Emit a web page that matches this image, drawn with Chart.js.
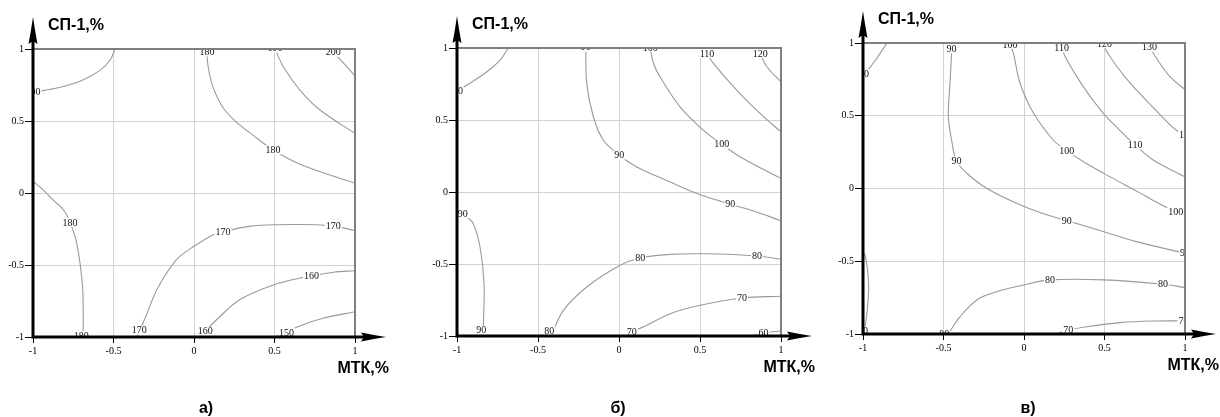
<!DOCTYPE html>
<html lang="ru">
<head>
    <meta charset="UTF-8">
    <title>Contours</title>
    <script src="https://cdn.jsdelivr.net/npm/chart.js"></script>
    <style>
        html, body { margin: 0; padding: 0; background: #fff; }
        #wrap { position: relative; width: 1220px; height: 417px; overflow: hidden; }
        #wrap canvas { position: absolute; top: 0; }
    </style>
</head>
<body>
<div id="wrap">
    <canvas id="chartA" width="395" height="417" style="left:0px"></canvas>
    <canvas id="chartB" width="397" height="417" style="left:424px"></canvas>
    <canvas id="chartC" width="395" height="417" style="left:830px"></canvas>
</div>

<script>
    // axis ticks (coded factor levels)
    const xTicks = [-1, -0.5, 0, 0.5, 1];
    const yTicks = [-1, -0.5, 0, 0.5, 1];

    // ---- panel a) : contour lines, [MTK, SP-1] pairs
    const a190tl = [[-1, 0.70], [-0.83, 0.735], [-0.69, 0.785], [-0.58, 0.855], [-0.52, 0.925], [-0.49, 1]];
    const a180top = [[0.078, 1], [0.089, 0.87], [0.12, 0.73], [0.182, 0.59], [0.265, 0.49], [0.368, 0.40], [0.49, 0.30], [0.658, 0.20], [1, 0.067]];
    const a190top = [[0.503, 1], [0.555, 0.877], [0.658, 0.715], [0.783, 0.576], [1, 0.414]];
    const a200 = [[0.85, 1], [0.897, 0.94], [0.949, 0.877], [1, 0.812]];
    const a180left = [[-1, 0.08], [-0.95, 0.035], [-0.874, -0.049], [-0.81, -0.118], [-0.77, -0.204], [-0.733, -0.326], [-0.708, -0.488], [-0.691, -0.674], [-0.688, -0.905], [-0.69, -1]];
    const a170 = [[-0.356, -1], [-0.30, -0.86], [-0.23, -0.67], [-0.11, -0.465], [0, -0.37], [0.12, -0.29], [0.18, -0.27], [0.35, -0.23], [0.51, -0.22], [0.76, -0.22], [0.865, -0.23], [1, -0.26]];
    const a160 = [[0.037, -1], [0.07, -0.96], [0.14, -0.88], [0.286, -0.74], [0.49, -0.64], [0.66, -0.59], [0.73, -0.575], [0.865, -0.55], [1, -0.54]];
    const a150 = [[0.50, -1], [0.575, -0.97], [0.64, -0.93], [0.80, -0.87], [1, -0.825]];
    const aLabels = [[190, -1.0, 0.70], [180, 0.08, 0.98], [190, 0.503, 1.006], [200, 0.865, 0.977], [180, 0.49, 0.30],
        [180, -0.77, -0.204], [180, -0.70, -0.99], [170, -0.34, -0.951], [170, 0.18, -0.27], [170, 0.865, -0.23],
        [160, 0.07, -0.96], [160, 0.73, -0.575], [150, 0.575, -0.97]];

    // ---- panel б)
    const b100tl = [[-1, 0.694], [-0.971, 0.718], [-0.817, 0.833], [-0.734, 0.915], [-0.683, 1]];
    const b90top = [[-0.205, 1], [-0.199, 0.753], [-0.158, 0.521], [-0.096, 0.359], [0.001, 0.255], [0.11, 0.174], [0.316, 0.069], [0.481, -0.011], [0.687, -0.085], [0.831, -0.132], [1, -0.2]];
    const b100 = [[0.193, 1], [0.213, 0.892], [0.254, 0.799], [0.378, 0.59], [0.522, 0.428], [0.635, 0.331], [0.749, 0.243], [1, 0.093]];
    const b110 = [[0.53, 1], [0.543, 0.96], [0.584, 0.892], [0.728, 0.706], [0.872, 0.544], [1, 0.417]];
    const b120 = [[0.86, 1], [0.872, 0.961], [0.914, 0.868], [1, 0.764]];
    const b90left = [[-1, -0.145], [-0.94, -0.174], [-0.90, -0.219], [-0.858, -0.382], [-0.833, -0.636], [-0.837, -0.914], [-0.84, -1]];
    const b80 = [[-0.42, -1], [-0.343, -0.822], [-0.199, -0.66], [0.007, -0.509], [0.131, -0.458], [0.316, -0.433], [0.522, -0.429], [0.852, -0.444], [1, -0.467]];
    const b70 = [[0.05, -1], [0.079, -0.972], [0.172, -0.926], [0.316, -0.845], [0.501, -0.787], [0.759, -0.736], [1, -0.724]];
    const b60 = [[0.82, -1], [0.892, -0.979], [1, -0.965]];
    const bLabels = [[100, -1.01, 0.70], [90, -0.205, 1.006], [100, 0.193, 1.003], [110, 0.543, 0.961], [120, 0.872, 0.961],
        [90, 0.001, 0.255], [100, 0.635, 0.331], [90, 0.687, -0.085], [90, -0.965, -0.15], [90, -0.85, -0.96],
        [80, -0.43, -0.965], [80, 0.131, -0.458], [80, 0.852, -0.444], [70, 0.079, -0.972], [70, 0.759, -0.736], [60, 0.892, -0.979]];

    // ---- panel в)
    const c100tl = [[-1, 0.77], [-0.975, 0.805], [-0.913, 0.897], [-0.851, 1]];
    const c90 = [[-0.45, 1], [-0.45, 0.93], [-0.46, 0.72], [-0.47, 0.495], [-0.45, 0.335], [-0.42, 0.19], [-0.355, 0.105], [-0.23, 0.0], [-0.025, -0.112], [0.141, -0.181], [0.265, -0.22], [0.492, -0.296], [0.699, -0.365], [1, -0.445]];
    const c100 = [[-0.09, 1], [-0.066, 0.93], [-0.025, 0.725], [0.058, 0.52], [0.18, 0.335], [0.265, 0.26], [0.39, 0.17], [0.535, 0.08], [0.72, -0.03], [0.80, -0.08], [0.943, -0.158], [1, -0.165]];
    const c110 = [[0.23, 1], [0.254, 0.91], [0.368, 0.70], [0.49, 0.52], [0.595, 0.40], [0.69, 0.30], [0.80, 0.197], [1, 0.08]];
    const c120 = [[0.49, 1], [0.52, 0.93], [0.64, 0.75], [0.80, 0.56], [0.946, 0.40], [1, 0.38]];
    const c130 = [[0.765, 1], [0.78, 0.97], [0.82, 0.90], [0.905, 0.77], [1, 0.68]];
    const c90left = [[-1, -0.44], [-0.986, -0.46], [-0.97, -0.58], [-0.965, -0.70], [-0.975, -0.85], [-0.986, -0.95], [-0.99, -1]];
    const c80 = [[-0.475, -1], [-0.469, -0.995], [-0.397, -0.881], [-0.293, -0.766], [-0.169, -0.709], [0, -0.663], [0.161, -0.628], [0.492, -0.628], [0.864, -0.658], [1, -0.681]];
    const c70 = [[0.2, -1], [0.275, -0.973], [0.389, -0.95], [0.595, -0.922], [0.80, -0.911], [1, -0.91]];
    const cLabels = [[100, -1.01, 0.789], [90, -0.45, 0.96], [100, -0.087, 0.99], [110, 0.234, 0.965], [120, 0.50, 0.995], [130, 0.78, 0.97],
        [90, -0.42, 0.19], [100, 0.265, 0.26], [110, 0.69, 0.30], [120, 1.01, 0.37], [100, 0.943, -0.158],
        [90, 0.265, -0.22], [90, 1.0, -0.44], [90, -1.0, -0.977], [80, -0.496, -1.0], [80, 0.161, -0.628], [80, 0.864, -0.658],
        [70, 0.275, -0.973], [70, 0.99, -0.91]];

    const xTitle = 'МТК,%';
    const yTitle = 'СП-1,%';

    function fmt(v) { return String(v); }

    function decorPlugin(caption, capX) {
        return {
            id: 'decor',
            afterDatasetsDraw(chart) {
                const { ctx, chartArea: ar, scales } = chart;
                const labels = chart.config.options.contourLabels;
                ctx.save();
                ctx.beginPath();
                ctx.rect(ar.left, ar.top, ar.right - ar.left, ar.bottom - ar.top);
                ctx.clip();
                ctx.font = '10px "Liberation Serif"';
                ctx.textAlign = 'center';
                ctx.textBaseline = 'middle';
                labels.forEach(l => {
                    const px = scales.x.getPixelForValue(l[1]);
                    const py = scales.y.getPixelForValue(l[2]);
                    const t = String(l[0]);
                    const w = ctx.measureText(t).width;
                    ctx.fillStyle = '#fff';
                    ctx.fillRect(px - w / 2 - 1, py - 4.5, w + 2, 9);
                    ctx.fillStyle = '#111';
                    ctx.fillText(t, px, py + 0.5);
                });
                ctx.restore();
            },
            afterDraw(chart) {
                const { ctx, chartArea: ar } = chart;
                const L = ar.left, R = ar.right, T = ar.top, B = ar.bottom;
                ctx.save();
                // frame top/right
                ctx.strokeStyle = '#7f7f7f';
                ctx.lineWidth = 2;
                ctx.beginPath();
                ctx.moveTo(L, T); ctx.lineTo(R, T); ctx.lineTo(R, B);
                ctx.stroke();
                // thick axes
                ctx.strokeStyle = '#000';
                ctx.fillStyle = '#000';
                ctx.lineWidth = 3;
                ctx.beginPath();
                ctx.moveTo(L, B + 1.5); ctx.lineTo(L, T - 10);
                ctx.moveTo(L - 1.5, B); ctx.lineTo(R + 10, B);
                ctx.stroke();
                // arrow heads
                ctx.beginPath();
                ctx.moveTo(L, T - 32);
                ctx.quadraticCurveTo(L + 2, T - 18, L + 4.5, T - 5);
                ctx.lineTo(L, T - 8);
                ctx.lineTo(L - 4.5, T - 5);
                ctx.quadraticCurveTo(L - 2, T - 18, L, T - 32);
                ctx.fill();
                ctx.beginPath();
                ctx.moveTo(R + 31, B);
                ctx.quadraticCurveTo(R + 18, B - 2, R + 6, B - 4.5);
                ctx.lineTo(R + 9, B);
                ctx.lineTo(R + 6, B + 4.5);
                ctx.quadraticCurveTo(R + 18, B + 2, R + 31, B);
                ctx.fill();
                // titles
                ctx.font = 'bold 16px "Liberation Sans"';
                ctx.textBaseline = 'middle';
                ctx.textAlign = 'left';
                ctx.fillText(yTitle, L + 15, T - 23);
                ctx.textAlign = 'right';
                ctx.fillText(xTitle, R + 34, B + 32);
                ctx.textAlign = 'center';
                ctx.textBaseline = 'alphabetic';
                ctx.fillText(caption, capX, 413);
                ctx.restore();
            }
        };
    }

    function makeChart(id, contours, labels, top, bottom, caption, capX) {
        const canvas = document.getElementById(id);
        const tickFont = { family: '"Liberation Serif"', size: 10 };
        const gridColor = ctx => {
            const v = ctx.tick ? ctx.tick.value : 0;
            if (v === 1) return '#7f7f7f';
            if (v === -1) return 'rgba(0,0,0,0)';
            return '#d2d2d2';
        };
        new Chart(canvas, {
            type: 'scatter',
            data: {
                datasets: contours.map(c => ({
                    data: c.map(p => ({ x: p[0], y: p[1] })),
                    showLine: true,
                    borderColor: '#9a9a9a',
                    borderWidth: 1.1,
                    pointRadius: 0,
                    tension: 0.35,
                    fill: false
                }))
            },
            options: {
                responsive: false,
                animation: false,
                contourLabels: labels,
                layout: { padding: { left: 0, right: 40, top: top, bottom: 417 - bottom - 20 } },
                plugins: { legend: { display: false }, tooltip: { enabled: false } },
                scales: {
                    x: {
                        type: 'linear', min: -1, max: 1,
                        afterBuildTicks: s => { s.ticks = xTicks.map(v => ({ value: v })); },
                        afterFit: s => { s.height = 20; },
                        border: { display: false },
                        grid: { color: gridColor, lineWidth: 1, tickLength: 6, tickColor: '#000', tickWidth: 1 },
                        ticks: { font: tickFont, color: '#000', padding: 2, maxRotation: 0, autoSkip: false, callback: fmt }
                    },
                    y: {
                        type: 'linear', min: -1, max: 1,
                        afterBuildTicks: s => { s.ticks = yTicks.map(v => ({ value: v })); },
                        afterFit: s => { s.width = 33; },
                        border: { display: false },
                        grid: { color: gridColor, lineWidth: 1, tickLength: 8, tickColor: '#000', tickWidth: 1 },
                        ticks: { font: tickFont, color: '#000', padding: 1, autoSkip: false, callback: fmt }
                    }
                }
            },
            plugins: [decorPlugin(caption, capX)]
        });
    }

    makeChart('chartA', [a190tl, a180top, a190top, a200, a180left, a170, a160, a150], aLabels, 49, 337, 'а)', 206);
    makeChart('chartB', [b100tl, b90top, b100, b110, b120, b90left, b80, b70, b60], bLabels, 48, 336, 'б)', 194);
    makeChart('chartC', [c100tl, c90, c100, c110, c120, c130, c90left, c80, c70], cLabels, 43, 334, 'в)', 198);
</script>
</body>
</html>
